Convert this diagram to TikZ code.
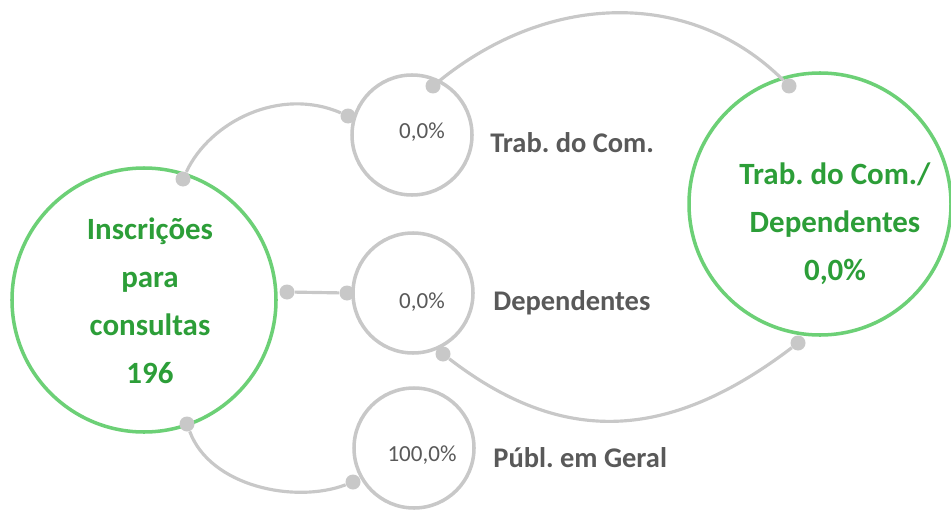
\documentclass[tikz,border=0pt]{standalone}
\usepackage{fontspec}
\setmainfont{Carlito}
\frenchspacing
\usetikzlibrary{positioning}

\definecolor{ringgreen}{RGB}{108,208,118}
\definecolor{textgreen}{RGB}{44,158,56}
\definecolor{linegrey}{RGB}{200,200,200}
\definecolor{textgrey}{RGB}{89,89,89}

\begin{document}
\begin{tikzpicture}[
  bigring/.style={circle,draw=ringgreen,line width=2pt,inner sep=0pt},
  ring/.style={circle,draw=linegrey,line width=2pt,minimum size=2.4cm,inner sep=0pt},
  dot/.style={circle,fill=linegrey,minimum size=0.3cm,inner sep=0pt},
  link/.style={draw=linegrey,line width=1.8pt},
  pct/.style={font=\fontsize{13.1}{15}\selectfont,text=textgrey,anchor=base,inner sep=0pt},
  lbl/.style={font=\fontsize{16.2}{19}\selectfont\bfseries,text=textgrey,anchor=base west,inner sep=0pt},
  big/.style={font=\fontsize{17.6}{27.3}\selectfont\bfseries,text=textgreen,align=center,anchor=base,inner sep=0pt}
]
\fill[white] (0,0) rectangle (19.02,10.18);
\useasboundingbox (0,0) rectangle (19.02,10.18);

% circles
\node[bigring,minimum size=5.28cm] (ins) at (2.88,4.18) {};
\node[bigring,minimum size=5.24cm] (tdc) at (16.40,6.10) {};
\node[ring] (trab) at (8.24,7.48) {};
\node[ring] (dep) at (8.26,4.32) {};
\node[ring] (pub) at (8.28,1.22) {};

% dots
\node[dot] (d1) at (3.66,6.60) {};
\node[dot] (d2) at (6.96,7.86) {};
\node[dot] (d3) at (8.66,8.46) {};
\node[dot] (d4) at (15.78,8.46) {};
\node[dot] (d5) at (5.74,4.34) {};
\node[dot] (d6) at (6.94,4.32) {};
\node[dot] (d7) at (8.86,3.10) {};
\node[dot] (d8) at (15.96,3.32) {};
\node[dot] (d9) at (3.74,1.70) {};
\node[dot] (d10) at (7.06,0.54) {};

% connectors
\draw[link] (d1) .. controls (4.2,7.75) and (5.6,8.45) .. (d2);
\draw[link] (d3) .. controls (11.03,10.38) and (13.86,10.38) .. (d4);
\draw[link] (d5) -- (d6);
\draw[link] (d7) .. controls (11.2,1.3) and (13.3,1.3) .. (d8);
\draw[link] (d9) .. controls (4.2,0.45) and (5.9,0.1) .. (d10);

% texts
\node[big] (insTxt) at (3.0,2.52) {Inscrições\\para\\consultas\\196};
\node[big] (tdcTxt) at (16.70,4.58) {Trab. do Com./\\Dependentes\\0,0\%};
\node[pct] (trabPct) at (8.44,7.42) {0,0\%};
\node[pct] (depPct) at (8.44,4.02) {0,0\%};
\node[pct] (pubPct) at (8.44,0.96) {100,0\%};
\node[lbl] (trabLbl) at (9.80,7.14) {Trab. do Com.};
\node[lbl] (depLbl) at (9.86,3.98) {Dependentes};
\node[lbl] (pubLbl) at (9.86,0.84) {Públ. em Geral};

\end{tikzpicture}
\end{document}
